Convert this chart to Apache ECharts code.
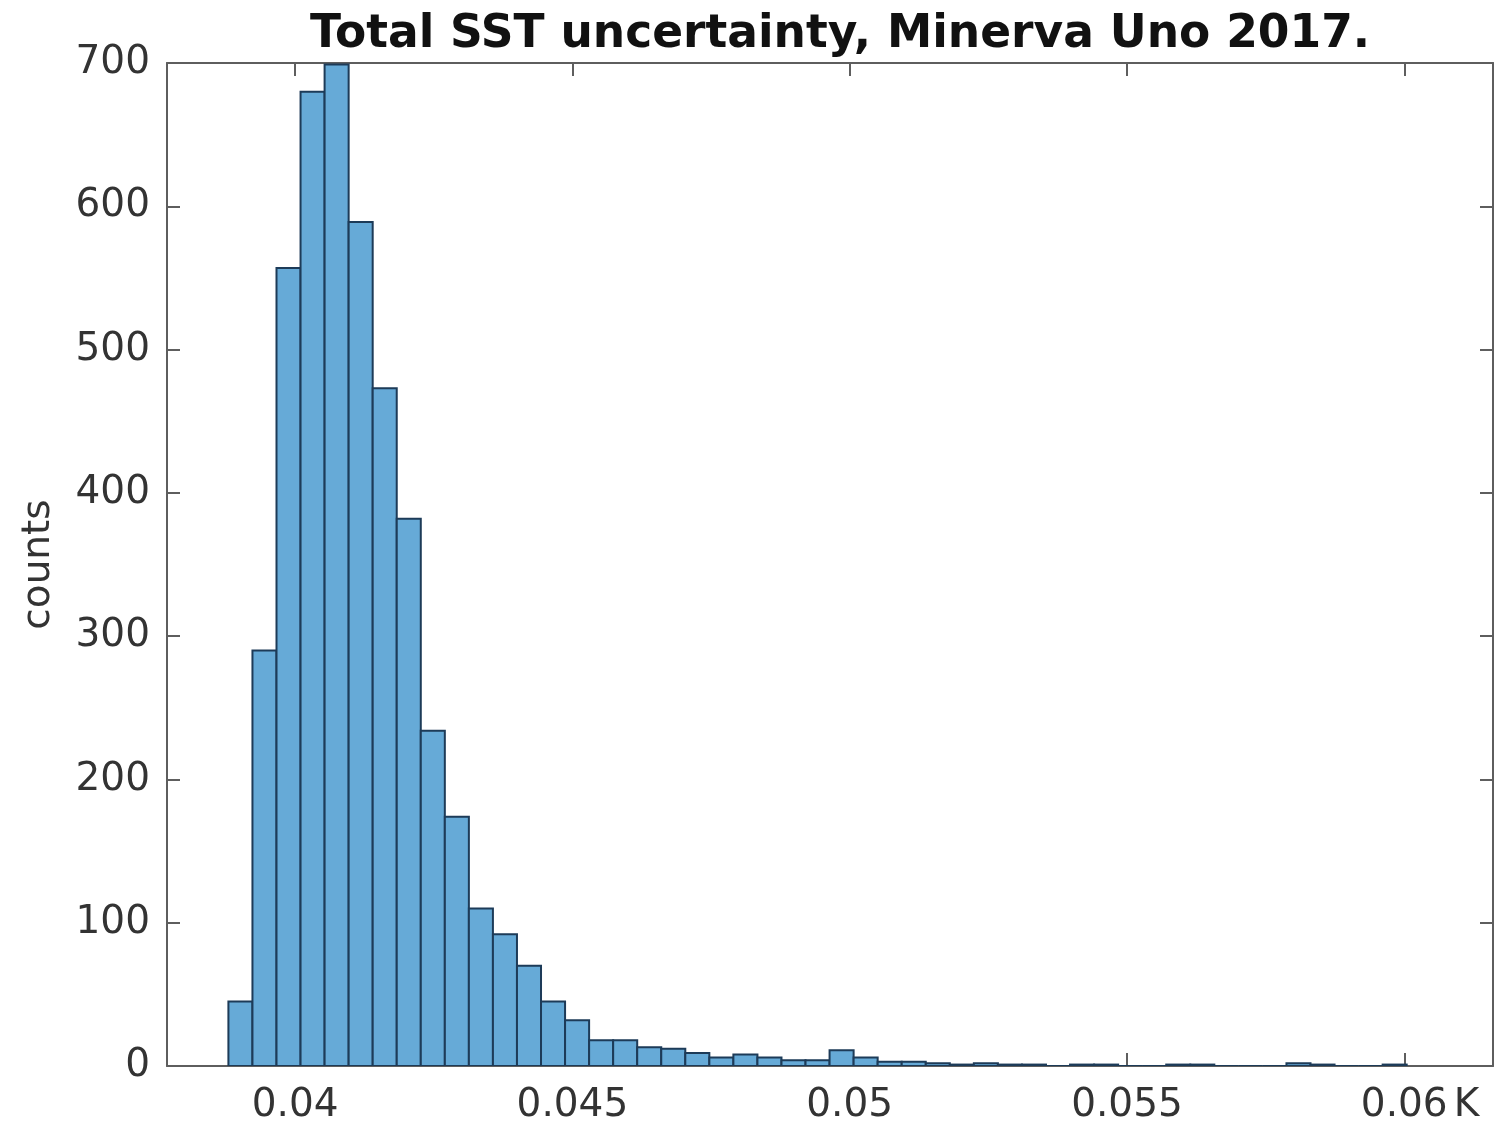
<!DOCTYPE html>
<html>
<head>
<meta charset="utf-8">
<script src="https://cdn.jsdelivr.net/npm/echarts@6/dist/echarts.min.js"></script>
<style>
html,body{margin:0;padding:0;background:#fff;}
#chart{width:1499px;height:1126px;}
</style>
</head>
<body>
<div id="chart"></div>
<script>
// ---- data ----
const titleText = 'Total SST uncertainty, Minerva Uno 2017.';
const yName = 'counts';
const xUnit = 'K';
const binStart = 0.0387973;      // left edge of first bin (K)
const binWidth = 0.0004336;      // bin width (K)
const counts = [45, 290, 557, 680, 699, 589, 473, 382, 234, 174,
                110, 92, 70, 45, 32, 18, 18, 13, 12, 9,
                6, 8, 6, 4, 4, 11, 6, 3, 3, 2,
                1, 2, 1, 1, 0, 1, 1, 0, 0, 1,
                1, 0, 0, 0, 2, 1, 0, 0, 1];
const xTicks = [0.04, 0.045, 0.05, 0.055, 0.06];
const xTickLabels = ['0.04', '0.045', '0.05', '0.055', '0.06'];
const yTicks = [0, 100, 200, 300, 400, 500, 600, 700];
const xMin = 0.03769, xMax = 0.06160;
const yMin = 0, yMax = 700;

// ---- chart ----
const histData = counts.map((c, i) => [binStart + i * binWidth, binStart + (i + 1) * binWidth, c]);
const FONT = 'DejaVu Sans';
const axisCol = '#5e5e5e';
const txtCol = '#333333';

function xLabel(v) {
  const idx = xTicks.findIndex(t => Math.abs(t - v) < 1e-9);
  if (idx < 0) return '';
  const s = xTickLabels[idx];
  if (idx === xTicks.length - 1) return '{pad|' + xUnit + '}' + s + '{k|' + xUnit + '}';
  return s;
}

const chart = echarts.init(document.getElementById('chart'), null, {renderer: 'canvas'});
chart.setOption({
  animation: false,
  backgroundColor: '#ffffff',
  title: {
    text: titleText,
    left: 835, top: 7, textAlign: 'center',
    textStyle: {fontFamily: FONT, fontWeight: 'bold', fontSize: 45.5, color: '#111'}
  },
  grid: {left: 167, right: 6, top: 63, bottom: 60, containLabel: false},
  xAxis: [{
    type: 'value', min: xMin, max: xMax, position: 'bottom',
    axisLine: {show: true, onZero: false, lineStyle: {color: axisCol, width: 2}},
    axisTick: {show: true, inside: true, length: 13, customValues: xTicks, lineStyle: {color: axisCol, width: 2}},
    axisLabel: {
      customValues: xTicks, formatter: xLabel, margin: 20,
      fontFamily: FONT, fontSize: 39, color: txtCol,
      rich: {
        pad: {fontFamily: FONT, fontSize: 39, color: 'rgba(0,0,0,0)', padding: [0, 6, 0, 0]},
        k: {fontFamily: FONT, fontSize: 39, color: txtCol, padding: [0, 0, 0, 6]}
      }
    },
    splitLine: {show: false}
  }, {
    type: 'value', min: xMin, max: xMax, position: 'top',
    axisLine: {show: true, onZero: false, lineStyle: {color: axisCol, width: 2}},
    axisTick: {show: true, inside: true, length: 13, customValues: xTicks, lineStyle: {color: axisCol, width: 2}},
    axisLabel: {show: false},
    splitLine: {show: false}
  }],
  yAxis: [{
    type: 'value', min: yMin, max: yMax, interval: 100, position: 'left',
    name: yName, nameLocation: 'middle', nameGap: 109,
    nameTextStyle: {fontFamily: FONT, fontSize: 39, color: txtCol},
    axisLine: {show: true, onZero: false, lineStyle: {color: axisCol, width: 2}},
    axisTick: {show: true, inside: true, length: 13, lineStyle: {color: axisCol, width: 2}},
    axisLabel: {margin: 17, fontFamily: FONT, fontSize: 39, color: txtCol,
      formatter: v => (yTicks.indexOf(v) >= 0 ? String(v) : '')},
    splitLine: {show: false}
  }, {
    type: 'value', min: yMin, max: yMax, interval: 100, position: 'right',
    axisLine: {show: true, onZero: false, lineStyle: {color: axisCol, width: 2}},
    axisTick: {show: true, inside: true, length: 13, lineStyle: {color: axisCol, width: 2}},
    axisLabel: {show: false},
    splitLine: {show: false}
  }],
  series: [{
    type: 'custom',
    xAxisIndex: 0, yAxisIndex: 0,
    data: histData,
    encode: {x: [0, 1], y: 2},
    clip: true,
    renderItem: function (params, api) {
      const p0 = api.coord([api.value(0), 0]);
      const p1 = api.coord([api.value(1), api.value(2)]);
      return {
        type: 'rect',
        shape: {x: p0[0], y: p1[1], width: p1[0] - p0[0], height: p0[1] - p1[1]},
        style: {fill: '#66aad7', stroke: '#1d3b58', lineWidth: 2}
      };
    }
  }]
});
</script>
</body>
</html>
